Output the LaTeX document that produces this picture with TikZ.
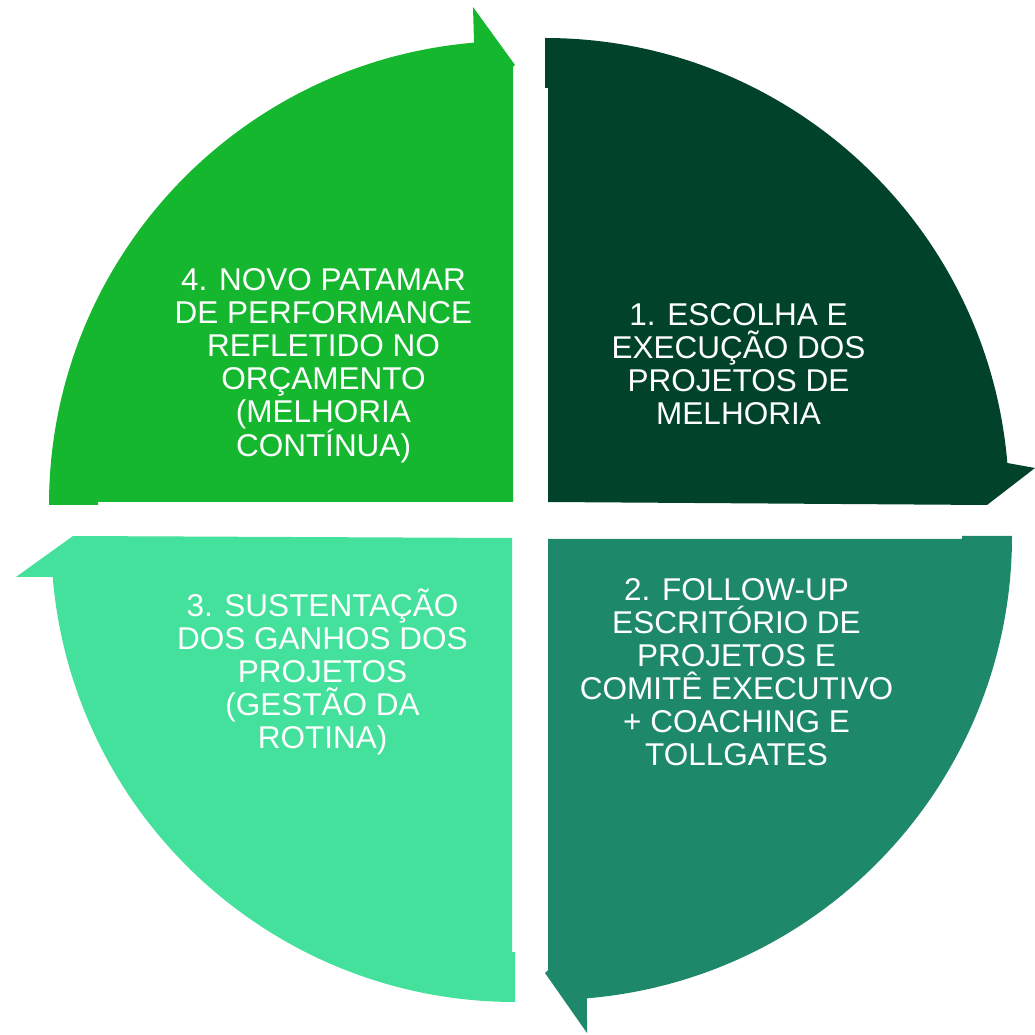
\documentclass[tikz,border=0pt]{standalone}
\usepackage{fontspec}
\setmainfont{Liberation Sans}
\definecolor{cA}{HTML}{00432A}
\definecolor{cB}{HTML}{1E896A}
\definecolor{cC}{HTML}{43E19C}
\definecolor{cD}{HTML}{14B72E}
\tikzset{
  lbl/.style={text=white, font=\fontsize{31.5}{33}\selectfont, align=center, inner sep=0pt, anchor=base},
  seg/.style={draw=none}
}
\begin{document}
\begin{tikzpicture}[x=1pt,y=1pt]
\useasboundingbox (0,0) rectangle (1035,1034);
% 1 top-right
\fill[cA] (545,996) arc[start angle=90,end angle=4.82,radius=464]
  -- (1035,566) -- (987,529) -- (548,532) -- (548,946) -- (545,946) -- cycle;
% 2 bottom-right
\fill[cB] (1012,498) arc[start angle=0,end angle=-85.18,radius=464]
  -- (587,1) -- (545,61) -- (548,64) -- (548,495) -- (962,495) -- (962,498) -- cycle;
% 3 bottom-left
\fill[cC] (515,32) arc[start angle=-90,end angle=-175.18,radius=464]
  -- (16,457) -- (73,498) -- (512,496) -- (512,82) -- (515,82) -- cycle;
% 4 top-left
\fill[cD] (49,529) arc[start angle=180,end angle=94.82,radius=464]
  -- (473,1027) -- (515,969) -- (513,967) -- (513,532) -- (98,532) -- (98,529) -- cycle;
\node[lbl] (t1) at (738.5,609) {1. ESCOLHA E\\EXECUÇÃO DOS\\PROJETOS DE\\MELHORIA};
\node[lbl] (t2) at (736.5,269) {2. FOLLOW-UP\\ESCRITÓRIO DE\\PROJETOS E\\COMITÊ EXECUTIVO\\+ COACHING E\\TOLLGATES};
\node[lbl] (t3) at (322.5,286) {3. SUSTENTAÇÃO\\DOS GANHOS DOS\\PROJETOS\\(GESTÃO DA\\ROTINA)};
\node[lbl] (t4) at (323.5,577) {4. NOVO PATAMAR\\DE PERFORMANCE\\REFLETIDO NO\\ORÇAMENTO\\(MELHORIA\\CONTÍNUA)};
\end{tikzpicture}
\end{document}
